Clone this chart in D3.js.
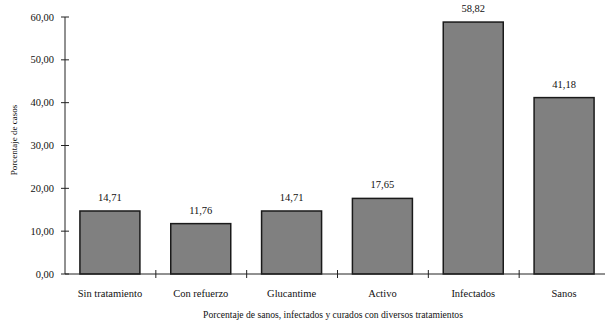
<!DOCTYPE html>
<html>
<head>
<meta charset="utf-8">
<script src="https://cdnjs.cloudflare.com/ajax/libs/d3/7.8.5/d3.min.js"></script>
<style>
  html, body { margin: 0; padding: 0; background: #fff; }
  svg { display: block; }
</style>
</head>
<body>
<svg id="chart" width="605" height="322" font-family="'Liberation Serif', 'Times New Roman', 'DejaVu Serif', serif"></svg>
<script>
// Treatment groups and the percentage of cases in each
const categories = ["Sin tratamiento", "Con refuerzo", "Glucantime", "Activo", "Infectados", "Sanos"];
const values = [14.71, 11.76, 14.71, 17.65, 58.82, 41.18];
const yTicks = [0, 10, 20, 30, 40, 50, 60];
const xTitle = "Porcentaje de sanos, infectados y curados con diversos tratamientos";
const yTitle = "Porcentaje de casos";

const svg = d3.select("#chart");
const fmt = v => v.toFixed(2).replace(".", ",");
const FONT = "'Liberation Serif', 'Times New Roman', serif";

const plotLeft = 65, plotRight = 610, plotTop = 17, plotBottom = 274;

const x = d3.scaleBand().domain(categories).range([plotLeft, plotRight]).paddingInner(0).paddingOuter(0);
const y = d3.scaleLinear().domain([0, 60]).range([plotBottom, plotTop]);

const barW = 60;
const barOff = (x.bandwidth() - barW) / 2 - 0.5;

function label(sel, size) {
  return sel.attr("font-family", FONT).attr("font-size", (size || 10.5) + "px").attr("fill", "#111");
}

// Bars
svg.append("g").selectAll("rect").data(values).join("rect")
  .attr("x", (d, i) => x(categories[i]) + barOff)
  .attr("y", d => y(d))
  .attr("width", barW)
  .attr("height", d => y(0) - y(d))
  .attr("fill", "#808080")
  .attr("stroke", "#1a1a1a")
  .attr("stroke-width", 1.5);

// Value labels above bars
svg.append("g").selectAll("text").data(values).join("text")
  .call(label)
  .attr("x", (d, i) => x(categories[i]) + barOff + barW / 2)
  .attr("y", d => y(d) - 10)
  .attr("text-anchor", "middle")
  .text(d => fmt(d));

// Y axis: line, ticks crossing the axis, labels
const yAxis = svg.append("g");
yAxis.append("line")
  .attr("x1", plotLeft).attr("x2", plotLeft)
  .attr("y1", y(60)).attr("y2", y(0))
  .attr("stroke", "#222").attr("stroke-width", 1);
yAxis.selectAll("line.tick").data(yTicks).join("line")
  .attr("class", "tick")
  .attr("x1", plotLeft - 4).attr("x2", plotLeft + 4)
  .attr("y1", d => y(d)).attr("y2", d => y(d))
  .attr("stroke", "#222").attr("stroke-width", 1);
yAxis.selectAll("text").data(yTicks).join("text")
  .call(label)
  .attr("x", plotLeft - 11)
  .attr("y", d => y(d) + 3.5)
  .attr("text-anchor", "end")
  .text(d => fmt(d));

// X axis: baseline, category dividers crossing the axis, labels
const xAxis = svg.append("g");
xAxis.append("line")
  .attr("x1", plotLeft).attr("x2", plotRight)
  .attr("y1", y(0)).attr("y2", y(0))
  .attr("stroke", "#222").attr("stroke-width", 1);
xAxis.selectAll("line.tick").data(categories.slice(1)).join("line")
  .attr("class", "tick")
  .attr("x1", d => x(d)).attr("x2", d => x(d))
  .attr("y1", y(0) - 4).attr("y2", y(0) + 4)
  .attr("stroke", "#222").attr("stroke-width", 1);
xAxis.selectAll("text").data(categories).join("text")
  .call(label)
  .attr("x", d => x(d) + barOff + barW / 2)
  .attr("y", 297)
  .attr("text-anchor", "middle")
  .text(d => d);

// Axis titles
svg.append("text")
  .call(label, 9.6)
  .attr("x", 333)
  .attr("y", 318)
  .attr("text-anchor", "middle")
  .text(xTitle);

svg.append("text")
  .call(label, 9)
  .attr("transform", "translate(17,140) rotate(-90)")
  .attr("text-anchor", "middle")
  .text(yTitle);
</script>
</body>
</html>
